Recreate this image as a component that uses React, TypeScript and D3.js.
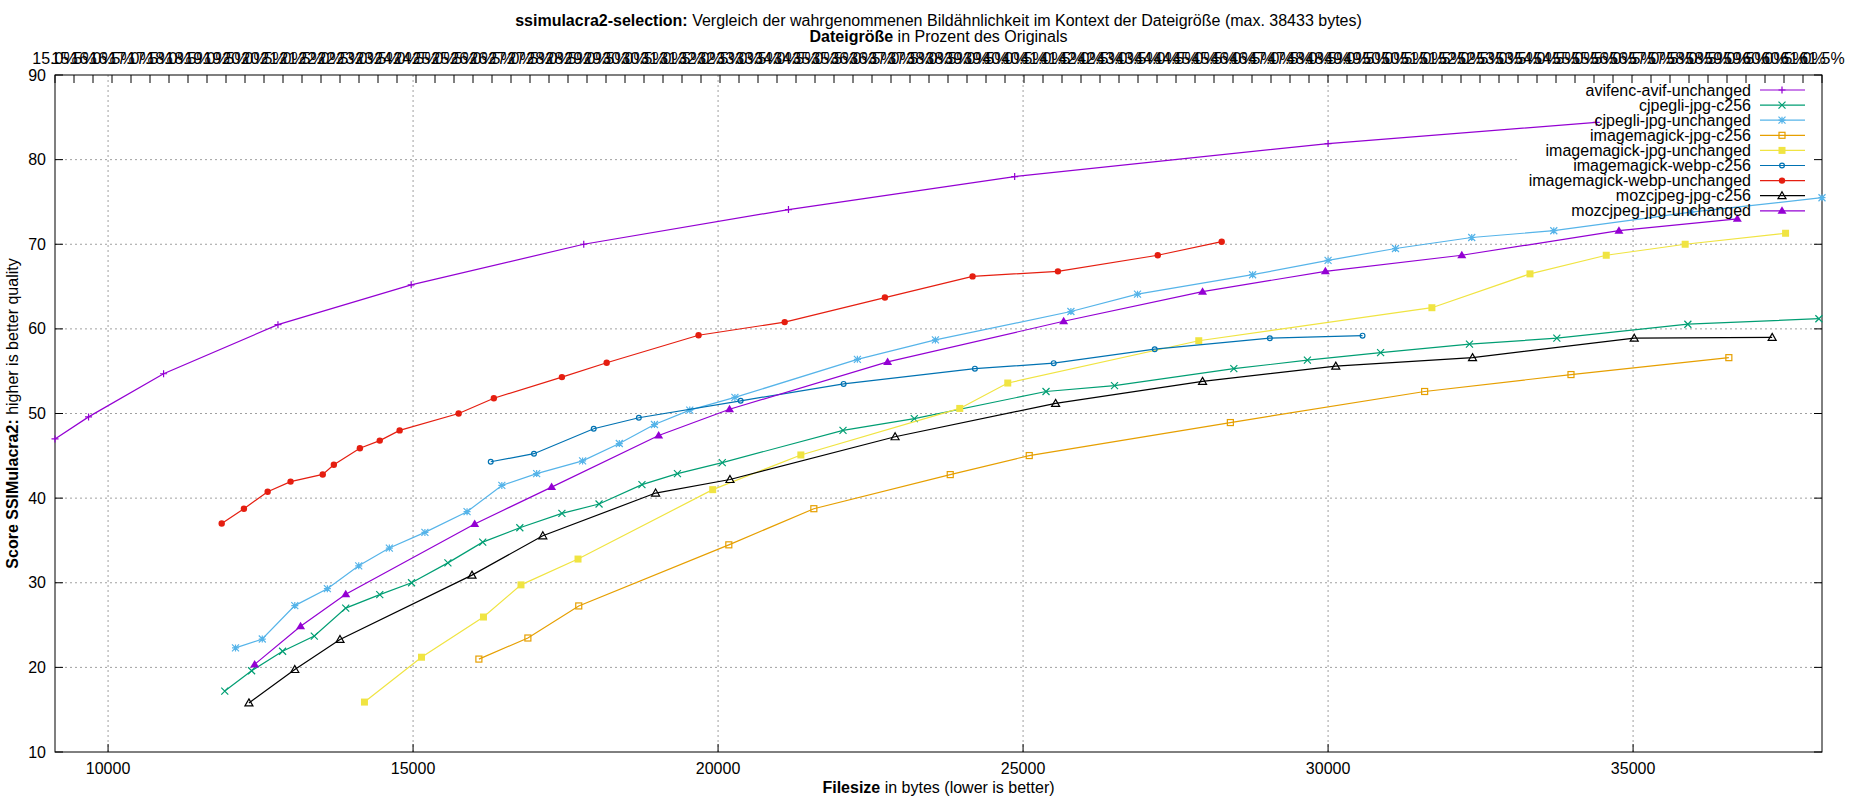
import React from "react";
import * as d3 from "d3";

// file size in bytes / SSIMULACRA2 score, per encoder setting
const avifUnchangedX = [9130, 9680, 10910, 12785, 14969, 17798, 21154, 24862, 30000, 34397];
const avifUnchangedY = [47.0, 49.6, 54.7, 60.5, 65.2, 70.0, 74.1, 78.0, 81.9, 84.4];

const cjpegliC256X = [11913, 12353, 12861, 13381, 13896, 14454, 14975, 15571, 16142, 16750, 17440, 18049, 18752, 19334, 20069, 22048, 23217, 25376, 26499, 28455, 29661, 30861, 32318, 33750, 35898, 38046];
const cjpegliC256Y = [17.2, 19.6, 21.9, 23.7, 27.0, 28.6, 30.0, 32.35, 34.8, 36.5, 38.2, 39.3, 41.6, 42.9, 44.2, 48.0, 49.4, 52.6, 53.3, 55.3, 56.3, 57.2, 58.2, 58.9, 60.55, 61.2];

const cjpegliUnchangedX = [12089, 12528, 13061, 13595, 14109, 14611, 15194, 15885, 16455, 17026, 17779, 18381, 18957, 19536, 20276, 22284, 23563, 25784, 26876, 28763, 30000, 31105, 32355, 33700, 35948, 38097];
const cjpegliUnchangedY = [22.3, 23.35, 27.3, 29.3, 32.0, 34.1, 35.95, 38.4, 41.5, 42.9, 44.4, 46.45, 48.7, 50.4, 51.9, 56.4, 58.7, 62.05, 64.1, 66.4, 68.1, 69.5, 70.8, 71.6, 73.8, 75.5];

const magickJpgC256X = [16079, 16882, 17716, 20176, 21570, 23806, 25101, 28398, 31583, 33982, 36570];
const magickJpgC256Y = [20.98, 23.47, 27.26, 34.48, 38.75, 42.78, 45.03, 48.93, 52.6, 54.6, 56.6];

const magickJpgUnchangedX = [14203, 15138, 16154, 16769, 17704, 19912, 21357, 23962, 24749, 27880, 31702, 33310, 34560, 35854, 37500];
const magickJpgUnchangedY = [15.9, 21.2, 25.95, 29.75, 32.8, 41.0, 45.1, 50.6, 53.6, 58.6, 62.5, 66.5, 68.7, 70.0, 71.3];

const magickWebpC256X = [16273, 16982, 17961, 18701, 20370, 22058, 24210, 25502, 27158, 29045, 30565];
const magickWebpC256Y = [44.3, 45.25, 48.2, 49.5, 51.5, 53.5, 55.3, 55.95, 57.6, 58.9, 59.2];

const magickWebpUnchangedX = [11863, 12227, 12616, 12992, 13519, 13701, 14128, 14454, 14780, 15747, 16324, 17440, 18174, 19680, 21092, 22735, 24172, 25571, 27208, 28256];
const magickWebpUnchangedY = [37.0, 38.75, 40.75, 41.95, 42.8, 43.95, 45.9, 46.8, 48.0, 50.0, 51.8, 54.3, 56.0, 59.25, 60.8, 63.7, 66.2, 66.8, 68.7, 70.3];

const mozC256X = [12309, 13061, 13802, 15966, 17127, 18976, 20195, 22902, 25533, 27942, 30126, 32368, 35019, 37280];
const mozC256Y = [15.8, 19.75, 23.3, 30.9, 35.55, 40.6, 42.2, 47.25, 51.2, 53.8, 55.6, 56.6, 58.9, 59.0];

const mozUnchangedX = [12403, 13156, 13896, 16010, 17271, 19026, 20188, 22779, 25665, 27942, 29956, 32192, 34768, 36709];
const mozUnchangedY = [20.35, 24.85, 28.65, 36.95, 41.3, 47.4, 50.5, 56.1, 60.9, 64.4, 66.8, 68.7, 71.6, 73.0];

const seriesNames = [
  "avifenc-avif-unchanged",
  "cjpegli-jpg-c256",
  "cjpegli-jpg-unchanged",
  "imagemagick-jpg-c256",
  "imagemagick-jpg-unchanged",
  "imagemagick-webp-c256",
  "imagemagick-webp-unchanged",
  "mozcjpeg-jpg-c256",
  "mozcjpeg-jpg-unchanged",
];
const seriesX = [avifUnchangedX, cjpegliC256X, cjpegliUnchangedX, magickJpgC256X, magickJpgUnchangedX, magickWebpC256X, magickWebpUnchangedX, mozC256X, mozUnchangedX];
const seriesY = [avifUnchangedY, cjpegliC256Y, cjpegliUnchangedY, magickJpgC256Y, magickJpgUnchangedY, magickWebpC256Y, magickWebpUnchangedY, mozC256Y, mozUnchangedY];
const colors = ["#9400d3", "#009e73", "#56b4e9", "#e69f00", "#f0e442", "#0072b2", "#e51e10", "#000000", "#9400d3"];
const markers = ["plus", "cross", "star", "openSquare", "filledSquare", "openCircle", "filledCircle", "openTriangle", "filledTriangle"];

const xTicks = [10000, 15000, 20000, 25000, 30000, 35000];
const yTicks = [10, 20, 30, 40, 50, 60, 70, 80, 90];
const pctTicks = d3.range(15, 61.51, 0.5);

const W = 1850;
const H = 800;
const LEFT = 55;
const RIGHT = 1822;
const TOP = 75;
const BOTTOM = 752;
const FONT = "'Liberation Sans', Arial, sans-serif";

function Marker({ type, x, y, color }: { type: string; x: number; y: number; color: string }) {
  const s = 3.5;
  switch (type) {
    case "plus":
      return <path d={`M${x - s},${y}H${x + s}M${x},${y - s}V${y + s}`} stroke={color} strokeWidth={1.2} />;
    case "cross":
      return <path d={`M${x - s},${y - s}L${x + s},${y + s}M${x - s},${y + s}L${x + s},${y - s}`} stroke={color} strokeWidth={1.2} />;
    case "star":
      return <path d={`M${x - s},${y}H${x + s}M${x},${y - s}V${y + s}M${x - s},${y - s}L${x + s},${y + s}M${x - s},${y + s}L${x + s},${y - s}`} stroke={color} strokeWidth={1.2} />;
    case "openSquare":
      return <rect x={x - 3} y={y - 3} width={6} height={6} fill="none" stroke={color} strokeWidth={1.2} />;
    case "filledSquare":
      return <rect x={x - 3.5} y={y - 3.5} width={7} height={7} fill={color} />;
    case "openCircle":
      return <circle cx={x} cy={y} r={2.4} fill="none" stroke={color} strokeWidth={1.2} />;
    case "filledCircle":
      return <circle cx={x} cy={y} r={3.2} fill={color} />;
    case "openTriangle":
      return <path d={`M${x},${y - 4}L${x + 4},${y + 3}L${x - 4},${y + 3}Z`} fill="none" stroke={color} strokeWidth={1.2} />;
    default:
      return <path d={`M${x},${y - 4.5}L${x + 4.5},${y + 3}L${x - 4.5},${y + 3}Z`} fill={color} />;
  }
}

export default function App() {
  const allX = seriesX.flat();
  const x = d3.scaleLinear().domain(d3.extent(allX) as [number, number]).range([LEFT, RIGHT]);
  const x2 = d3.scaleLinear().domain([15, 61.5]).range([LEFT, RIGHT]);
  const y = d3.scaleLinear().domain([10, 90]).range([BOTTOM, TOP]);
  const pctFormat = d3.format(".1f");

  const line = (xs: number[], ys: number[]) =>
    d3
      .line<number>()
      .x((_, i) => x(xs[i]))
      .y((d) => y(d))(ys) ?? "";

  const legendTop = 90;
  const legendStep = 15.1;

  return (
    <svg width={W} height={H} style={{ position: "absolute", left: 0, top: 0, background: "#fff" }} fontFamily={FONT}>
      <rect width={W} height={H} fill="#fff" />

      {/* grid */}
      <g stroke="#a0a0a0" strokeWidth={1} strokeDasharray="2,3">
        {xTicks.map((t) => (
          <line key={`gx${t}`} x1={x(t)} x2={x(t)} y1={TOP} y2={BOTTOM} />
        ))}
        {yTicks.slice(1, -1).map((t) => (
          <line key={`gy${t}`} x1={LEFT} x2={RIGHT} y1={y(t)} y2={y(t)} />
        ))}
      </g>

      {/* key background hides the grid */}
      <rect x={1517} y={TOP + 1} width={RIGHT - 1517 - 1} height={142} fill="#fff" />

      {/* frame + ticks */}
      <rect x={LEFT} y={TOP} width={RIGHT - LEFT} height={BOTTOM - TOP} fill="none" stroke="#000" strokeWidth={1} />
      <g stroke="#000" strokeWidth={1}>
        {xTicks.map((t) => (
          <line key={`tx${t}`} x1={x(t)} x2={x(t)} y1={BOTTOM} y2={BOTTOM - 8} />
        ))}
        {pctTicks.map((t) => (
          <line key={`tp${t}`} x1={x2(t)} x2={x2(t)} y1={TOP} y2={TOP + 8} />
        ))}
        {yTicks.map((t) => (
          <g key={`ty${t}`}>
            <line x1={LEFT} x2={LEFT + 8} y1={y(t)} y2={y(t)} />
            <line x1={RIGHT} x2={RIGHT - 8} y1={y(t)} y2={y(t)} />
          </g>
        ))}
      </g>

      {/* tick labels */}
      <g fontSize={16} fill="#000">
        {xTicks.map((t) => (
          <text key={`lx${t}`} x={x(t)} y={774} textAnchor="middle">
            {t}
          </text>
        ))}
        {yTicks.map((t) => (
          <text key={`ly${t}`} x={46} y={y(t) + 5.5} textAnchor="end">
            {t}
          </text>
        ))}
        {pctTicks.map((t) => (
          <text key={`lp${t}`} x={x2(t)} y={64} textAnchor="middle">
            {pctFormat(t)}%
          </text>
        ))}
      </g>

      {/* series */}
      {seriesNames.map((name, i) => (
        <g key={name}>
          <path d={line(seriesX[i], seriesY[i])} fill="none" stroke={colors[i]} strokeWidth={1.2} />
          {seriesX[i].map((v, j) => (
            <Marker key={j} type={markers[i]} x={x(v)} y={y(seriesY[i][j])} color={colors[i]} />
          ))}
        </g>
      ))}

      {/* legend */}
      <g fontSize={16}>
        {seriesNames.map((name, i) => {
          const ly = legendTop + i * legendStep;
          return (
            <g key={`k${name}`}>
              <text x={1751} y={ly + 5.5} textAnchor="end">
                {name}
              </text>
              <line x1={1760} x2={1805} y1={ly} y2={ly} stroke={colors[i]} strokeWidth={1.2} />
              <Marker type={markers[i]} x={1782} y={ly} color={colors[i]} />
            </g>
          );
        })}
      </g>

      {/* titles */}
      <text x={(LEFT + RIGHT) / 2} y={26} textAnchor="middle" fontSize={16}>
        <tspan fontWeight="bold">ssimulacra2-selection:</tspan>
        <tspan> Vergleich der wahrgenommenen Bildähnlichkeit im Kontext der Dateigröße (max. 38433 bytes)</tspan>
      </text>
      <text x={(LEFT + RIGHT) / 2} y={42} textAnchor="middle" fontSize={16}>
        <tspan fontWeight="bold">Dateigröße</tspan>
        <tspan> in Prozent des Originals</tspan>
      </text>
      <text x={(LEFT + RIGHT) / 2} y={793} textAnchor="middle" fontSize={16}>
        <tspan fontWeight="bold">Filesize</tspan>
        <tspan> in bytes (lower is better)</tspan>
      </text>
      <text transform={`translate(18,${(TOP + BOTTOM) / 2}) rotate(-90)`} textAnchor="middle" fontSize={16}>
        <tspan fontWeight="bold">Score SSIMulacra2:</tspan>
        <tspan> higher is better quality</tspan>
      </text>
    </svg>
  );
}
